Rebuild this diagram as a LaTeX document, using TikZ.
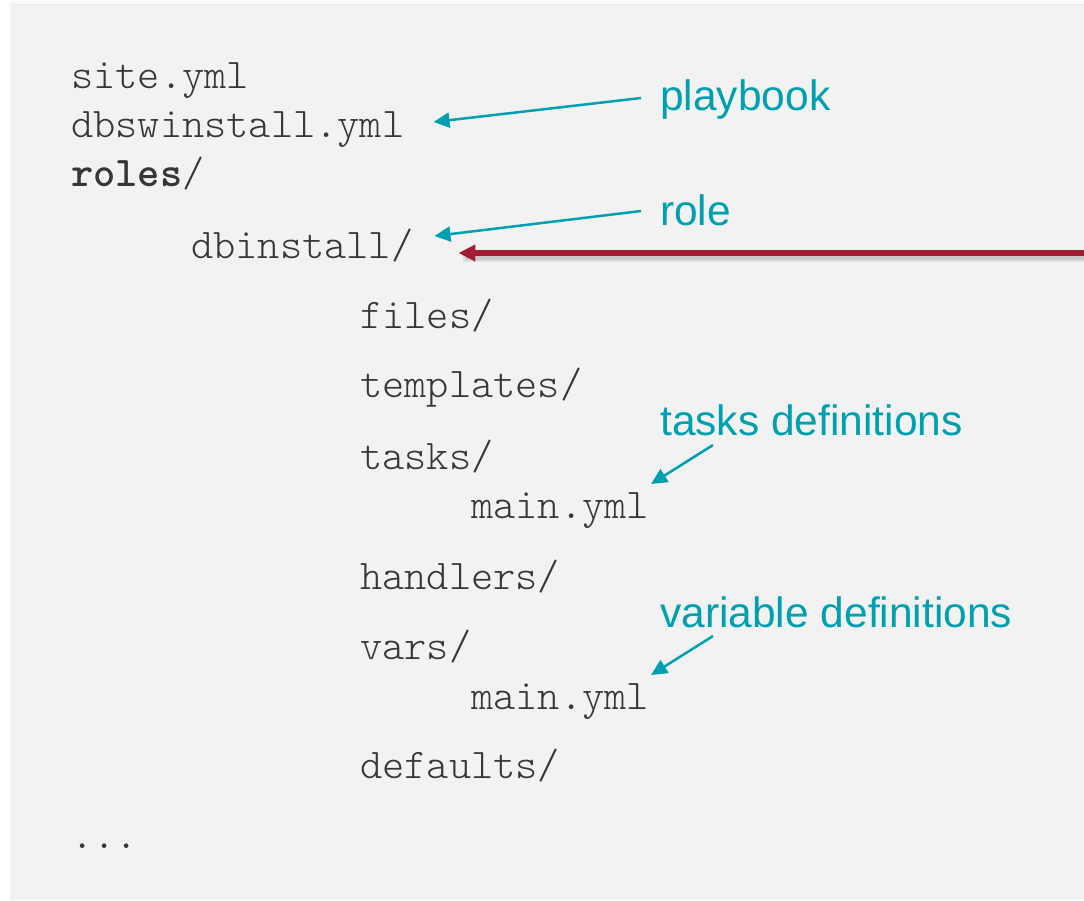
\documentclass[tikz,border=0pt]{standalone}
\usepackage{fontspec}
\setmonofont{Latin Modern Mono Light}
\newfontfamily\notefont{Liberation Sans}
\usetikzlibrary{arrows.meta}
\definecolor{boxgrey}{HTML}{F2F2F2}
\definecolor{codegrey}{HTML}{363636}
\definecolor{noteteal}{HTML}{00A0B0}
\definecolor{rolered}{HTML}{A31C33}
\tikzstyle{entry}=[anchor=base west,inner sep=0pt,text=codegrey,font=\ttfamily\fontsize{42.3}{42.3}\selectfont]
\tikzstyle{note}=[anchor=base west,inner sep=0pt,text=noteteal,font=\notefont\fontsize{42.5}{42.5}\selectfont]
\tikzstyle{notearrow}=[line width=2.5pt,draw=noteteal,-{Triangle[length=16pt,width=15pt]}]
\tikzstyle{rolearrow}=[line width=5.3pt,draw=rolered,-{Triangle[length=17pt,width=16pt]}]
\begin{document}
\begin{tikzpicture}[x=1pt,y=-1pt]
          \useasboundingbox (0,0) rectangle (1084,900);
          % panel with a soft edge
          \fill[white] (0,0) rectangle (1084,900);
          \fill[black!3] (9,1) rectangle (1084,900);
          \fill[black!7] (12,4) rectangle (1084,900);
          \fill[black!12] (13.5,5.5) rectangle (1084,900);
          \fill[boxgrey] (14,6) rectangle (1084,900);

          % directory tree
          \node[entry] (site) at (71,88) {site.yml};
          \node[entry] (dbsw) at (71,137) {dbswinstall.yml};
          \node[entry] (roles) at (71,186) {\textbf{roles}/};
          \node[entry] (dbinst) at (191,258) {dbinstall/};
          \node[entry] (files) at (360,328) {files/};
          \node[entry] (templ) at (360,397) {templates/};
          \node[entry] (tasks) at (360,469) {tasks/};
          \node[entry] (taskmain) at (471,518) {main.yml};
          \node[entry] (handl) at (360,589) {handlers/};
          \node[entry] (vars) at (360,659) {vars/};
          \node[entry] (varmain) at (471,709) {main.yml};
          \node[entry] (defs) at (360,778) {defaults/};
          \node[entry] (more) at (71,848) {...};

          % notes
          \node[note] (pb) at (660,110) {playbook};
          \node[note] (rl) at (660,225) {role};
          \node[note] (td) at (660,435) {tasks definitions};
          \node[note] (vd) at (660,627) {variable definitions};

          \draw[notearrow] ([shift={(-19,-12)}]pb.base west) -- ([shift={(29,-15)}]dbsw.base east);
          \draw[notearrow] ([shift={(-19,-14)}]rl.base west) -- ([shift={(21,-22)}]dbinst.base east);
          \draw[notearrow] ([shift={(53,10)}]td.base west) -- ([shift={(2,-34)}]taskmain.base east);
          \draw[notearrow] ([shift={(53,9)}]vd.base west) -- ([shift={(2,-34)}]varmain.base east);

          % red pointer from outside the panel
          \coordinate (redtail) at (1100,253);
          \draw[line width=8pt,black,opacity=0.08] ([shift={(0,5)}]redtail) -- ([shift={(50,0)}]dbinst.base east);
          \draw[line width=5pt,black,opacity=0.1] ([shift={(0,4)}]redtail) -- ([shift={(52,-1)}]dbinst.base east);
          \draw[rolearrow] (redtail) -- ([shift={(45,-5)}]dbinst.base east);
        \end{tikzpicture}
\end{document}
